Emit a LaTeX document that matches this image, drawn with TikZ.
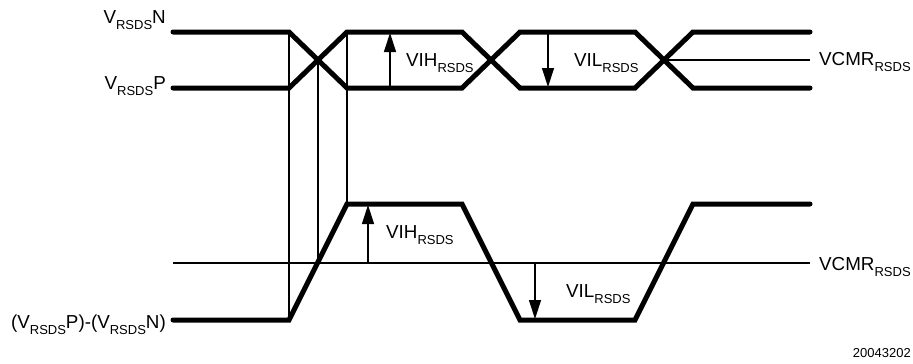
\documentclass[tikz,border=0pt]{standalone}
\usepackage{fontspec}
\setmainfont{Liberation Sans}
\usetikzlibrary{arrows.meta}
\newcommand{\rsds}{\raisebox{-6pt}{\fontsize{13}{14}\selectfont RSDS}}
\tikzset{
  sig/.style={line width=5pt, line cap=round, line join=miter},
  thin/.style={line width=1.3pt},
  meas/.style={line width=1.3pt, -{Triangle[length=19pt,width=12pt]}},
  lbl/.style={inner sep=0pt, font=\fontsize{18.8}{22}\selectfont},
  code/.style={inner sep=0pt, font=\fontsize{13}{14}\selectfont}
}
\begin{document}
\begin{tikzpicture}[x=1pt,y=-1pt]
\useasboundingbox (0,0) rectangle (913,364);
% top differential pair
\draw[sig] (173,32) -- (289,32) -- (347,88) -- (462,88) -- (520,32) -- (635,32) -- (693,88) -- (810,88);
\draw[sig] (173,88) -- (289,88) -- (347,32) -- (462,32) -- (520,88) -- (635,88) -- (693,32) -- (810,32);
\coordinate (x3) at (664,60);
\coordinate (x3e) at (810,60);
\draw[thin] (x3) -- (x3e);
% vertical guide lines
\draw[thin] (289,32) -- (289,320);
\draw[thin] (318,60) -- (318,263);
\draw[thin] (347,32) -- (347,204);
% bottom differential signal
\coordinate (ms) at (173,263);
\coordinate (me) at (810,263);
\draw[thin] (ms) -- (me);
\draw[sig] (173,320) -- (289,320) -- (347,204) -- (462,204) -- (520,320) -- (635,320) -- (693,204) -- (810,204);
% measurement arrows
\draw[meas] (390,88) -- (390,33);
\draw[meas] (548,32) -- (548,87);
\draw[meas] (368,263) -- (368,205);
\draw[meas] (535,263) -- (535,319);
% labels
\node[lbl, anchor=base east] (lN) at (166,23.5) {V\rsds N};
\node[lbl, anchor=base east] (lP) at (166,89) {V\rsds P};
\node[lbl, anchor=base east] (lD) at (166,328) {(V\rsds P)-(V\rsds N)};
\node[lbl, anchor=base west] (vihT) at (406,66.5) {VIH\rsds};
\node[lbl, anchor=base west] (vilT) at (574,66) {VIL\rsds};
\node[lbl, anchor=base west] (vcmrT) at (819,65) {VCMR\rsds};
\node[lbl, anchor=base west] (vihB) at (386,238) {VIH\rsds};
\node[lbl, anchor=base west] (vilB) at (566,297) {VIL\rsds};
\node[lbl, anchor=base west] (vcmrB) at (819,270) {VCMR\rsds};
\node[code, anchor=base east] (num) at (911,357) {20043202};
\end{tikzpicture}
\end{document}
